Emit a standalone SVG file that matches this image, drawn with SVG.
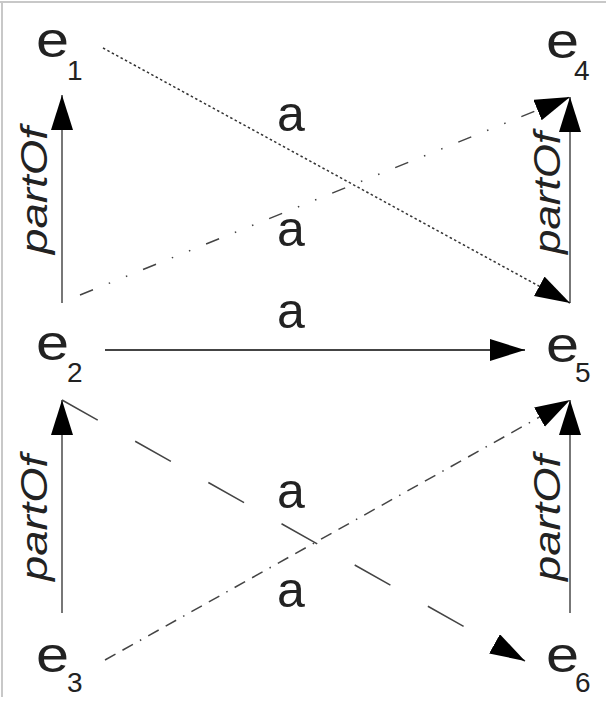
<svg xmlns="http://www.w3.org/2000/svg" width="606" height="707" viewBox="0 0 606 707">
<style>
.node{font-family:"Liberation Sans",Arial,sans-serif;font-size:50px;fill:#222}
.sub{font-family:"Liberation Sans",Arial,sans-serif;font-size:28px;fill:#222}
.lbl{font-family:"Liberation Sans",Arial,sans-serif;font-size:50px;fill:#222}
.po{font-family:"Liberation Sans",Arial,sans-serif;font-size:36px;font-style:italic;fill:#222}
.c{fill:none;stroke:#444;stroke-width:1.5}
.v{stroke:#777;stroke-width:2}
.h{stroke:#444;stroke-width:2}
.dot{stroke-dasharray:2.5 2.5;stroke:#333}
.dd{stroke-dasharray:14 17 1.5 17 1.5 17}
.dsh{stroke-dasharray:41 43}
.ddt{stroke-dasharray:12 8 12 8 1.5 8}
</style>
<defs>
<marker id="ah" markerUnits="userSpaceOnUse" markerWidth="36" markerHeight="24" refX="35" refY="11" orient="auto" viewBox="0 0 36 24">
<path d="M0,0 L35,11 L0,22 z" fill="#000"/>
</marker>
</defs>
<rect x="0" y="0" width="606" height="707" fill="#fff"/>
<path d="M0,2 H606 M2,2 V697" fill="none" stroke="#c8c8c8" stroke-width="2"/>
<g id="connectors">
<line class="c v" x1="62" y1="303" x2="62" y2="95" marker-end="url(#ah)"/>
<line class="c v" x1="570" y1="303" x2="570" y2="97" marker-end="url(#ah)"/>
<line class="c v" x1="62" y1="613" x2="62" y2="400" marker-end="url(#ah)"/>
<line class="c v" x1="570" y1="613" x2="570" y2="400" marker-end="url(#ah)"/>
<line class="c dot" x1="103" y1="48" x2="570" y2="303" marker-end="url(#ah)"/>
<line class="c dd" x1="80" y1="295" x2="570" y2="97" marker-end="url(#ah)"/>
<line class="c h" x1="105" y1="350" x2="525" y2="350" marker-end="url(#ah)"/>
<line class="c dsh" x1="62" y1="400" x2="525" y2="661" marker-end="url(#ah)"/>
<line class="c ddt" x1="105" y1="660" x2="570" y2="400" marker-end="url(#ah)"/>
<text class="lbl" x="277" y="131">a</text>
<text class="lbl" x="277" y="246">a</text>
<text class="lbl" x="277" y="328">a</text>
<text class="lbl" x="277" y="508">a</text>
<text class="lbl" x="277" y="607">a</text>
<text class="po" transform="translate(47,254) rotate(-90)" textLength="127" lengthAdjust="spacingAndGlyphs">partOf</text>
<text class="po" transform="translate(560,254) rotate(-90)" textLength="122" lengthAdjust="spacingAndGlyphs">partOf</text>
<text class="po" transform="translate(47,581) rotate(-90)" textLength="126" lengthAdjust="spacingAndGlyphs">partOf</text>
<text class="po" transform="translate(560,581) rotate(-90)" textLength="126" lengthAdjust="spacingAndGlyphs">partOf</text>
</g>
<g id="e1"><text class="node" x="36" y="57" textLength="33" lengthAdjust="spacingAndGlyphs">e</text><text class="sub" x="67" y="80">1</text></g>
<g id="e2"><text class="node" x="36" y="360" textLength="33" lengthAdjust="spacingAndGlyphs">e</text><text class="sub" x="67" y="382">2</text></g>
<g id="e3"><text class="node" x="36" y="672" textLength="33" lengthAdjust="spacingAndGlyphs">e</text><text class="sub" x="67" y="692">3</text></g>
<g id="e4"><text class="node" x="546" y="58" textLength="33" lengthAdjust="spacingAndGlyphs">e</text><text class="sub" x="574" y="80">4</text></g>
<g id="e5"><text class="node" x="546" y="362" textLength="33" lengthAdjust="spacingAndGlyphs">e</text><text class="sub" x="575" y="382">5</text></g>
<g id="e6"><text class="node" x="546" y="672" textLength="33" lengthAdjust="spacingAndGlyphs">e</text><text class="sub" x="575" y="692">6</text></g>
</svg>
